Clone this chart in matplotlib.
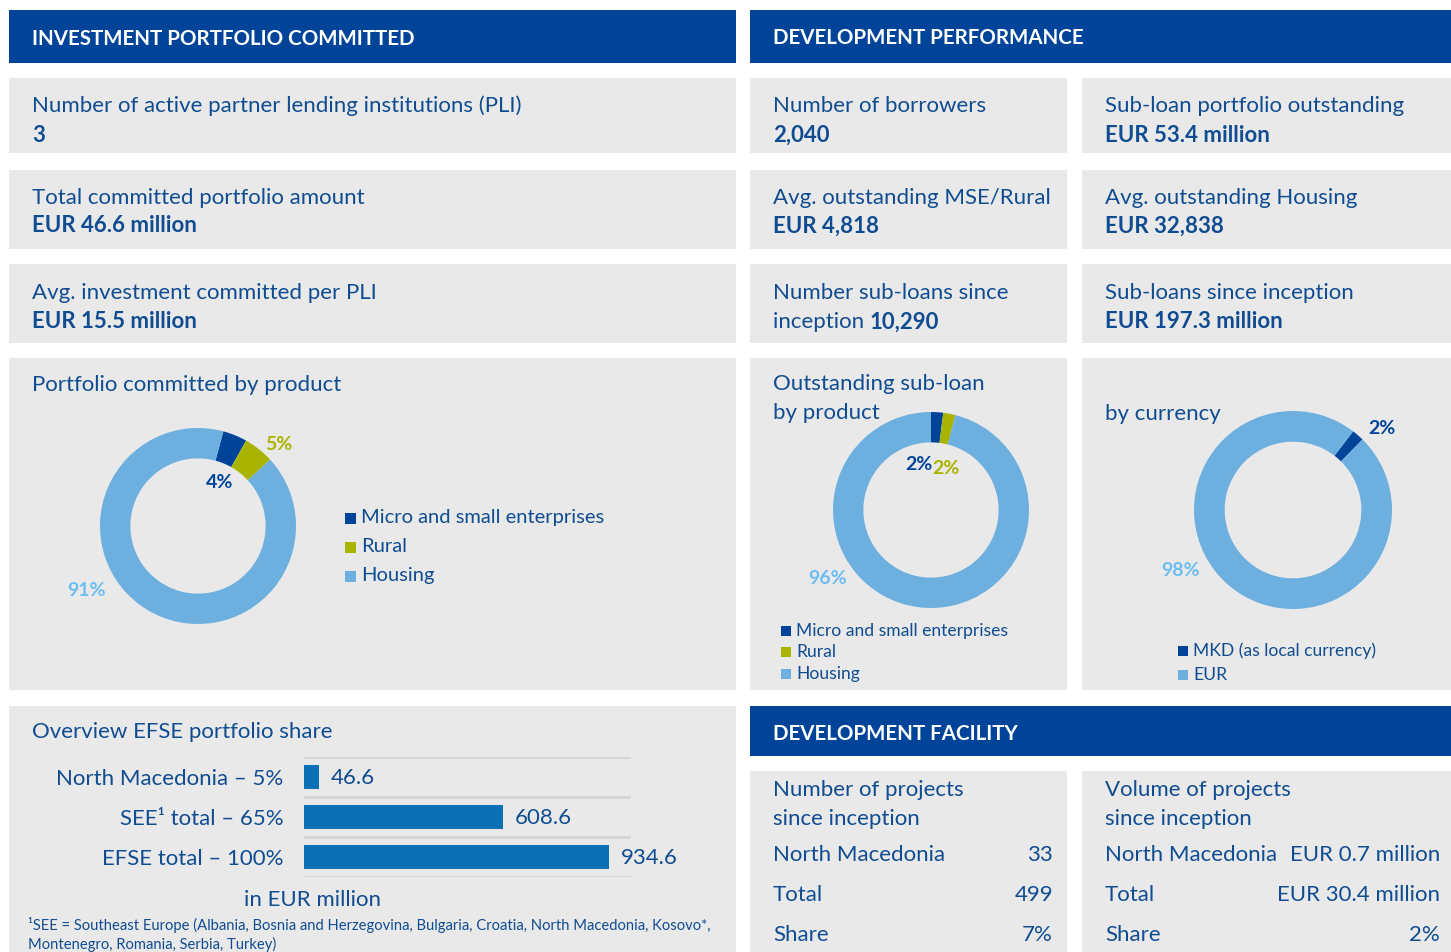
import matplotlib
matplotlib.use("Agg")
import matplotlib.pyplot as plt
from matplotlib.patches import Rectangle

# ---------------- data ----------------
header_left = "INVESTMENT PORTFOLIO COMMITTED"
header_right = "DEVELOPMENT PERFORMANCE"
header_df = "DEVELOPMENT FACILITY"

kpi_left = [("Number of active partner lending institutions (PLI)", "3"),
            ("Total committed portfolio amount", "EUR 46.6 million"),
            ("Avg. investment committed per PLI", "EUR 15.5 million")]
kpi_mid = [("Number of borrowers", "2,040"),
           ("Avg. outstanding MSE/Rural", "EUR 4,818"),
           ("Number sub-loans since", "10,290")]
kpi_right = [("Sub-loan portfolio outstanding", "EUR 53.4 million"),
             ("Avg. outstanding Housing", "EUR 32,838"),
             ("Sub-loans since inception", "EUR 197.3 million")]

product_labels = ["Micro and small enterprises", "Rural", "Housing"]
committed_pct = [4, 5, 91]
outstanding_pct = [2, 2, 96]
currency_labels = ["MKD (as local currency)", "EUR"]
currency_pct = [2, 98]

bar_labels = ["North Macedonia \u2013 5%", "SEE\u00b9 total \u2013 65%", "EFSE total \u2013 100%"]
bar_values = [46.6, 608.6, 934.6]

df_rows = ["North Macedonia", "Total", "Share"]
df_projects = ["33", "499", "7%"]
df_volume = ["EUR 0.7 million", "EUR 30.4 million", "2%"]

# ---------------- style ----------------
W, H = 1451, 952
FONT = "Lato"
HDR = "#00449A"
BOX = "#E9E9E9"
TXT = "#0F4C91"
C_MICRO = "#00449A"
C_RURAL = "#A8B400"
C_HOUS = "#6DB0E0"
C_HOUS_LBL = "#6CBDF2"
C_BAR = "#0A6FB5"
FS = 16
DY = 2

plt.rcParams['font.family'] = [FONT, 'DejaVu Sans']

fig = plt.figure(figsize=(W / 100, H / 100), dpi=100)
fig.patch.set_facecolor("white")
bg = fig.add_axes([0, 0, 1, 1])
bg.set_xlim(0, W)
bg.set_ylim(H, 0)
bg.axis("off")


def rect(x0, y0, x1, y1, color):
    bg.add_patch(Rectangle((x0, y0), x1 - x0, y1 - y0, color=color, lw=0, zorder=0))


def txt(x, y, s, bold=False, color=TXT, size=FS, ha="left", va="center"):
    return bg.text(x, y + DY, s, fontsize=size, color=color, ha=ha, va=va,
                   fontweight="bold" if bold else "normal", zorder=3)


# headers
rect(9, 10, 736, 63, HDR)
rect(750, 10, 1451, 63, HDR)
rect(750, 706, 1451, 756, HDR)
txt(32, 37, header_left, bold=True, color="white", size=14.8)
txt(773, 36, header_right, bold=True, color="white", size=14.8)
txt(773, 732, header_df, bold=True, color="white", size=14.8)

# grey boxes
rows = [(78, 153), (170, 249), (264, 343)]
for (y0, y1) in rows:
    rect(9, y0, 736, y1, BOX)
    rect(750, y0, 1067, y1, BOX)
    rect(1082, y0, 1451, y1, BOX)
rect(9, 358, 736, 690, BOX)
rect(750, 358, 1067, 690, BOX)
rect(1082, 358, 1451, 690, BOX)
rect(9, 706, 736, 952, BOX)
rect(750, 771, 1067, 952, BOX)
rect(1082, 771, 1451, 952, BOX)

# KPI texts
ty = [(104, 133), (196, 224), (291, 320)]
for i, (t, v) in enumerate(kpi_left):
    txt(32, ty[i][0], t)
    txt(32, ty[i][1], v, bold=True)
for i, (t, v) in enumerate(kpi_mid):
    txt(773, ty[i][0], t)
    if i < 2:
        txt(773, ty[i][1], v, bold=True)
for i, (t, v) in enumerate(kpi_right):
    txt(1105, ty[i][0], t)
    txt(1105, ty[i][1], v, bold=True)

# mixed regular/bold line
fig.canvas.draw()
r = fig.canvas.get_renderer()
t1 = txt(773, ty[2][1], "inception ")
bb = t1.get_window_extent(renderer=r)
x_end = bg.transData.inverted().transform((bb.x1, 0))[0]
txt(x_end, ty[2][1], kpi_mid[2][1], bold=True)

# panel titles
txt(32, 383, "Portfolio committed by product")
txt(773, 382, "Outstanding sub-loan")
txt(773, 411, "by product")
txt(1105, 412, "by currency")
txt(32, 730, "Overview EFSE portfolio share")


# ---------------- donuts ----------------
def donut(cx, cy, r, vals, colors, startangle):
    ax = fig.add_axes([(cx - r) / W, (H - cy - r) / H, 2 * r / W, 2 * r / H])
    ax.pie(vals, colors=colors, startangle=startangle, counterclock=False,
           radius=1.0, wedgeprops=dict(width=0.31, linewidth=0))
    ax.set_xlim(-1, 1)
    ax.set_ylim(-1, 1)
    ax.set_aspect("equal")
    ax.axis("off")
    return ax


prod_colors = [C_MICRO, C_RURAL, C_HOUS]
donut(198, 526, 98, committed_pct, prod_colors, 75)
donut(931, 510, 98, outstanding_pct, prod_colors, 90)
donut(1293, 510, 99, currency_pct, [C_MICRO, C_HOUS], 52.6)

# donut labels
LS = 14
txt(279, 443, f"{committed_pct[1]}%", bold=True, color=C_RURAL, size=LS, ha="center")
txt(220, 480, f"{committed_pct[0]}%", bold=True, color=C_MICRO, size=LS, ha="center")
txt(87, 589, f"{committed_pct[2]}%", bold=True, color=C_HOUS_LBL, size=LS, ha="center")
txt(919, 462, f"{outstanding_pct[0]}%", bold=True, color=C_MICRO, size=LS, ha="center")
txt(946, 467, f"{outstanding_pct[1]}%", bold=True, color=C_RURAL, size=LS, ha="center")
txt(828, 577, f"{outstanding_pct[2]}%", bold=True, color=C_HOUS_LBL, size=LS, ha="center")
txt(1382, 426, f"{currency_pct[0]}%", bold=True, color=C_MICRO, size=LS, ha="center")
txt(1180, 568, f"{currency_pct[1]}%", bold=True, color=C_HOUS_LBL, size=LS, ha="center")


# legends
def legend(x, ys, labels, colors, sq, size):
    for y, lab, c in zip(ys, labels, colors):
        rect(x, y - sq / 2, x + sq, y + sq / 2, c)
        txt(x + sq + 5, y - DY, lab, size=size)


legend(345, [518, 547, 576], product_labels, prod_colors, 11, 14.5)
legend(781, [631, 652, 674], product_labels, prod_colors, 10, 12.6)
legend(1178, [651, 675], currency_labels, [C_MICRO, C_HOUS], 10, 12.6)

# ---------------- bar chart ----------------
bx0, bx1, by0, by1 = 304, 631, 757, 877
bax = fig.add_axes([bx0 / W, (H - by1) / H, (bx1 - bx0) / W, (by1 - by0) / H])
ypos = list(range(len(bar_values)))
bax.barh(ypos, bar_values, height=0.6, color=C_BAR, zorder=2)
bax.set_xlim(0, 1002)
bax.set_ylim(len(bar_values) - 0.5, -0.5)
for g in [-0.5, 0.5, 1.5, 2.5]:
    bax.axhline(g, color="#D4D4D4", lw=2, zorder=1)
bax.set_facecolor("none")
for s in bax.spines.values():
    s.set_visible(False)
bax.set_xticks([])
bax.set_yticks(ypos)
bax.set_yticklabels(bar_labels, fontsize=FS, color=TXT)
bax.tick_params(axis="y", length=0, pad=15)
for yv, v in zip(ypos, bar_values):
    bax.text(v + 36, yv + 0.03, f"{v:.1f}", fontsize=FS, color=TXT, va="center", ha="left")

txt(313, 898, "in EUR million", ha="center")
txt(28, 923, "\u00b9SEE = Southeast Europe (Albania, Bosnia and Herzegovina, Bulgaria, Croatia, North Macedonia, Kosovo*,",
    size=10.6)
txt(28, 942, "Montenegro, Romania, Serbia, Turkey)", size=10.6)

# ---------------- development facility ----------------
txt(773, 788, "Number of projects")
txt(773, 817, "since inception")
txt(1105, 788, "Volume of projects")
txt(1105, 817, "since inception")
for y, lab, p, v in zip([853, 893, 933], df_rows, df_projects, df_volume):
    txt(773, y, lab)
    txt(1053, y, p, ha="right")
    txt(1105, y, lab)
    txt(1440, y, v, ha="right")

fig.savefig("out.png", dpi=100, facecolor="white")
